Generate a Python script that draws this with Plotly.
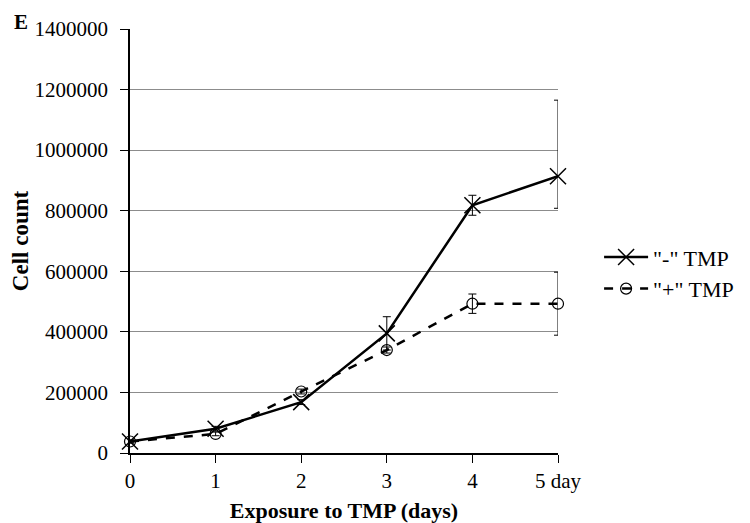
import plotly.graph_objects as go

days = [0, 1, 2, 3, 4, 5]
tick_labels = ["0", "1", "2", "3", "4", "5 day"]
minus_tmp = [38000, 80000, 168000, 395000, 818000, 914000]
minus_err_plus = [5000, 8000, 8000, 55000, 33000, 251000]
minus_err_minus = [5000, 8000, 8000, 55000, 33000, 106000]
plus_tmp = [38000, 63000, 203000, 340000, 493000, 493000]
plus_err = [5000, 6000, 8000, 10000, 32000, 104000]
y_ticks = [0, 200000, 400000, 600000, 800000, 1000000, 1200000, 1400000]

FONT = "Liberation Serif, Times New Roman, serif"

fig = go.Figure()
fig.add_trace(go.Scatter(
    x=days, y=minus_tmp, name='"-" TMP', mode="lines+markers",
    line=dict(color="black", width=2.5),
    marker=dict(symbol="x-thin-open", size=16, line=dict(color="black", width=1.5), color="black"),
    error_y=dict(type="data", array=minus_err_plus, arrayminus=minus_err_minus, symmetric=False,
                 color="black", thickness=1, width=4),
    cliponaxis=False,
))
fig.add_trace(go.Scatter(
    x=days, y=plus_tmp, name='"+" TMP', mode="lines+markers",
    line=dict(color="black", width=2.5, dash="dash"),
    marker=dict(symbol="circle-open", size=11, line=dict(color="black", width=1.2), color="black"),
    error_y=dict(type="data", array=plus_err, color="black", thickness=1, width=4),
    cliponaxis=False,
))

# page body has an 8px margin; size the figure so it fits the 750x523 window
fig.update_layout(
    width=742, height=515,
    margin=dict(l=122, r=192, t=21, b=70, autoexpand=False),
    paper_bgcolor="white", plot_bgcolor="white",
    font=dict(family=FONT, color="black", size=21),
    legend=dict(x=1.096, y=0.424, xanchor="left", yanchor="middle",
                font=dict(size=22, family=FONT), tracegroupgap=0, itemwidth=44),
    annotations=[dict(text="<b>E</b>", x=-0.276, y=1.017, xref="paper", yref="paper",
                      xanchor="left", yanchor="middle",
                      showarrow=False, font=dict(size=21, family=FONT))],
)

fig.update_xaxes(
    range=[0, 5], tickmode="array", tickvals=days, ticktext=tick_labels,
    showgrid=False, showline=True, linecolor="black", linewidth=1.5,
    ticks="outside", ticklen=8, tickcolor="black", zeroline=False, automargin=False,
    title=dict(text="<b>Exposure to TMP (days)</b>", font=dict(size=22, family=FONT)),
    tickfont=dict(size=21, family=FONT),
)
fig.update_yaxes(
    range=[0, 1400000], tickmode="array", tickvals=y_ticks,
    ticktext=[str(v) for v in y_ticks],
    showgrid=True, gridcolor="#8c8c8c", gridwidth=1,
    showline=True, linecolor="black", linewidth=1.5,
    ticks="outside", ticklen=8, tickcolor="black", zeroline=False, automargin=False,
    ticklabelstandoff=8,
    title=dict(text="<b>Cell count</b>", font=dict(size=23, family=FONT)),
    tickfont=dict(size=21, family=FONT),
)

fig.write_html("out.html")
